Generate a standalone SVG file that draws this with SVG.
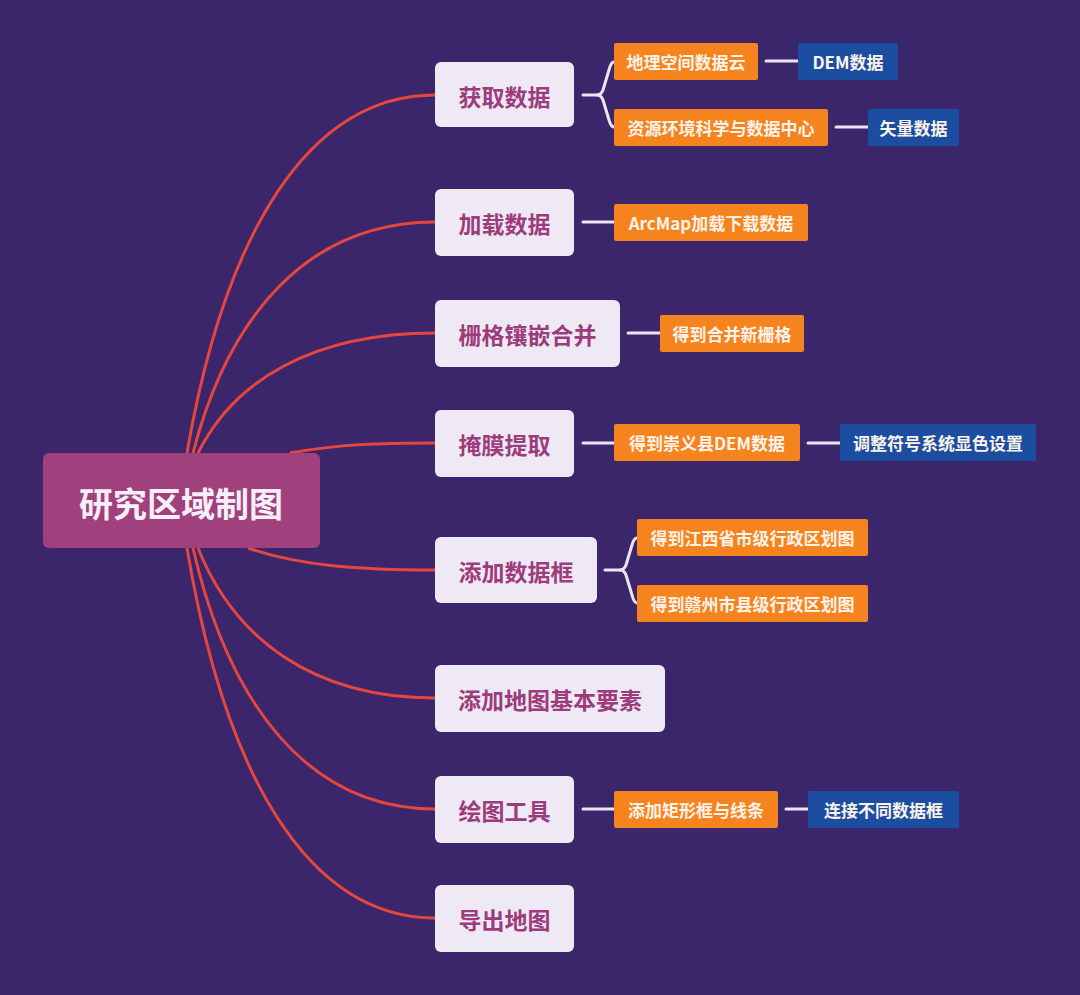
<svg xmlns="http://www.w3.org/2000/svg" width="1080" height="995" viewBox="0 0 1080 995">
<style>
.bg{fill:#3c266b}
.red{fill:none;stroke:#e5473f;stroke-width:3}
.wl{fill:none;stroke:#ece4f4;stroke-width:3;stroke-linecap:round;stroke-linejoin:round}
.root rect{fill:#a0407c}
.root text{fill:#f6eef8;font-size:34px}
.l1 rect{fill:#efe8f5}
.l1 text{fill:#9c3c7c;font-size:23px}
.l2 rect{fill:#f5841f}
.l3 rect{fill:#1b4ea0}
.l2 text,.l3 text{fill:#fdf3ea;font-size:17px}
text{font-family:"Noto Sans CJK SC","Noto Sans",sans-serif;font-weight:bold;text-anchor:middle;dominant-baseline:central}
</style>
<rect class="bg" x="0" y="0" width="1080" height="995"/>
<g id="connectors">
<path class="red" d="M187,453 C224,238 306,95 435,95"/>
<path class="red" d="M193,453 C229,314 309,222 435,222"/>
<path class="red" d="M198,453 C234,381 312,333 435,333"/>
<path class="red" d="M290,453 C340,444 380,443 435,443"/>
<path class="red" d="M248,548 C300,566 360,570 435,570"/>
<path class="red" d="M198,548 C234,638 312,698 435,698"/>
<path class="red" d="M193,548 C229,705 309,809 435,809"/>
<path class="red" d="M187,548 C224,770 306,918 435,918"/>
<path class="wl" d="M583,95 L597,95 Q601,95 603,90 L609,70 Q611,62 614,62"/>
<path class="wl" d="M597,95 Q601,95 603,100 L609,120 Q611,127 614,127"/>
<path class="wl" d="M766,61 L798,61"/>
<path class="wl" d="M836,127 L868,127"/>
<path class="wl" d="M583,222 L614,222"/>
<path class="wl" d="M628,333 L660,333"/>
<path class="wl" d="M583,443 L614,443"/>
<path class="wl" d="M808,443 L840,443"/>
<path class="wl" d="M605,570 L620,570 Q624,570 626,565 L632,545 Q634,538 637,538"/>
<path class="wl" d="M620,570 Q624,570 626,575 L632,595 Q634,603 637,603"/>
<path class="wl" d="M583,809 L614,809"/>
<path class="wl" d="M786,809 L808,809"/>
</g>
<g id="root" class="root"><rect x="43" y="453" width="277" height="95" rx="6"/><text x="181" y="502">研究区域制图</text></g>
<g id="n1" class="l1"><rect x="435" y="62" width="139" height="65" rx="6"/><text x="504.5" y="96">获取数据</text></g>
<g id="n2" class="l1"><rect x="435" y="189" width="139" height="67" rx="6"/><text x="504.5" y="223">加载数据</text></g>
<g id="n3" class="l1"><rect x="435" y="300" width="185" height="67" rx="6"/><text x="527.5" y="334">栅格镶嵌合并</text></g>
<g id="n4" class="l1"><rect x="435" y="410" width="139" height="67" rx="6"/><text x="504.5" y="444">掩膜提取</text></g>
<g id="n5" class="l1"><rect x="435" y="537" width="162" height="66" rx="6"/><text x="516" y="571">添加数据框</text></g>
<g id="n6" class="l1"><rect x="435" y="665" width="230" height="67" rx="6"/><text x="550" y="699">添加地图基本要素</text></g>
<g id="n7" class="l1"><rect x="435" y="776" width="139" height="67" rx="6"/><text x="504.5" y="810">绘图工具</text></g>
<g id="n8" class="l1"><rect x="435" y="885" width="139" height="67" rx="6"/><text x="504.5" y="919">导出地图</text></g>
<g id="o1" class="l2"><rect x="614" y="43" width="144" height="37" rx="2"/><text x="686" y="61.5">地理空间数据云</text></g>
<g id="o2" class="l2"><rect x="614" y="109" width="214" height="37" rx="2"/><text x="721" y="127.5">资源环境科学与数据中心</text></g>
<g id="o3" class="l2"><rect x="614" y="204" width="194" height="37" rx="2"/><text x="711" y="222.5">ArcMap加载下载数据</text></g>
<g id="o4" class="l2"><rect x="660" y="315" width="144" height="37" rx="2"/><text x="732" y="333.5">得到合并新栅格</text></g>
<g id="o5" class="l2"><rect x="614" y="424" width="186" height="37" rx="2"/><text x="707" y="442.5">得到崇义县DEM数据</text></g>
<g id="o6" class="l2"><rect x="637" y="519" width="231" height="37" rx="2"/><text x="752.5" y="537.5">得到江西省市级行政区划图</text></g>
<g id="o7" class="l2"><rect x="637" y="585" width="231" height="37" rx="2"/><text x="752.5" y="603.5">得到赣州市县级行政区划图</text></g>
<g id="o8" class="l2"><rect x="614" y="791" width="164" height="37" rx="2"/><text x="696" y="809.5">添加矩形框与线条</text></g>
<g id="b1" class="l3"><rect x="798" y="43" width="100" height="37" rx="2"/><text x="848" y="61.5">DEM数据</text></g>
<g id="b2" class="l3"><rect x="868" y="109" width="91" height="37" rx="2"/><text x="913.5" y="127.5">矢量数据</text></g>
<g id="b3" class="l3"><rect x="840" y="424" width="196" height="37" rx="2"/><text x="938" y="442.5">调整符号系统显色设置</text></g>
<g id="b4" class="l3"><rect x="808" y="791" width="151" height="37" rx="2"/><text x="883.5" y="809.5">连接不同数据框</text></g>
</svg>
